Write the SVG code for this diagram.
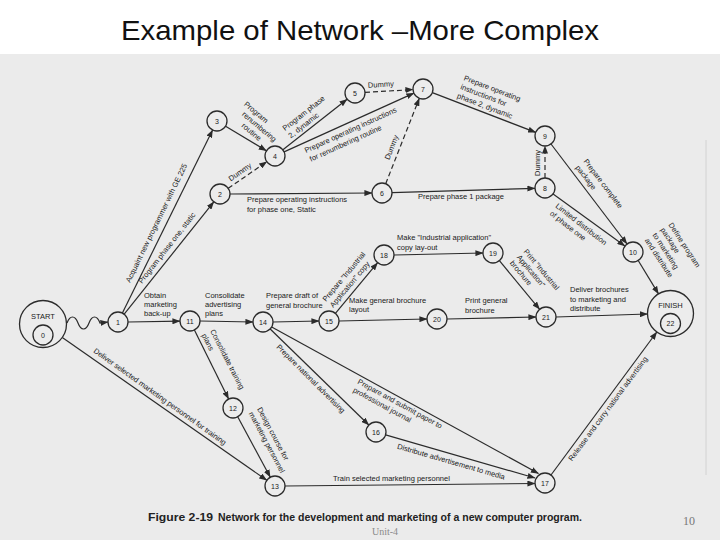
<svg xmlns="http://www.w3.org/2000/svg" width="720" height="540" viewBox="0 0 720 540">
<defs>
<marker id="a" viewBox="0 0 8 6" refX="7.6" refY="3" markerWidth="8" markerHeight="6" markerUnits="userSpaceOnUse" orient="auto"><path d="M0,0 L8,3 L0,6 z" fill="#2b2b2b"/></marker>
<style>
.e{stroke:#2b2b2b;stroke-width:1.2;fill:none;marker-end:url(#a)}
.d{stroke-dasharray:5 3}
.nd circle{fill:#ececec;stroke:#2b2b2b;stroke-width:1.3}
.nd text{font-family:"Liberation Sans",Arial,sans-serif;font-size:7px;fill:#1a1a1a;text-anchor:middle}
.l{font-family:"Liberation Sans",Arial,sans-serif;font-size:7.5px;fill:#1a1a1a}
.m{text-anchor:middle}
</style>
</defs>
<rect x="0" y="0" width="720" height="540" fill="#ffffff"/>
<rect x="0" y="54" width="720" height="486" fill="#ebebeb"/>
<line x1="706" y1="140" x2="706" y2="475" stroke="#d2d2d2" stroke-width="1"/>
<text x="360" y="40" font-family="'Liberation Sans',Arial,sans-serif" font-size="28" fill="#111" text-anchor="middle" textLength="478" lengthAdjust="spacingAndGlyphs">Example of Network –More Complex</text>

<g id="connectors">
<path class="e" d="M67,323 c3,-8 8,-8 11,0 s8,8 11,0 s8,-8 11,0 L108,322"/>
<line class="e" x1="122.4" y1="313" x2="212.6" y2="130"/>
<line class="e" x1="124.2" y1="314.2" x2="213.8" y2="201.8"/>
<line class="e" x1="128" y1="322" x2="180" y2="321.2"/>
<line class="e" x1="62.3" y1="337.5" x2="266.8" y2="480.3"/>
<line class="e" x1="200" y1="321" x2="253" y2="322"/>
<line class="e" x1="194.4" y1="330" x2="228.6" y2="399"/>
<line class="e" x1="237.7" y1="416.8" x2="270.3" y2="477.2"/>
<line class="e" x1="273" y1="322" x2="319" y2="321"/>
<line class="e" x1="270.2" y1="329" x2="368.8" y2="425"/>
<line class="e" x1="271.7" y1="327" x2="538.5" y2="473.5"/>
<line class="e" x1="335.4" y1="313.3" x2="377.6" y2="262.7"/>
<line class="e" x1="339" y1="321" x2="427" y2="319"/>
<line class="e" x1="394" y1="255" x2="483" y2="253"/>
<line class="e" x1="499.4" y1="260.7" x2="539.6" y2="309.3"/>
<line class="e" x1="447" y1="319" x2="536" y2="317"/>
<line class="e" x1="556" y1="317" x2="647.5" y2="314"/>
<line class="e d" x1="228.2" y1="188.3" x2="266.8" y2="161.7"/>
<line class="e" x1="230" y1="194" x2="372" y2="193"/>
<line class="e" x1="225.6" y1="126.2" x2="266.4" y2="150.8"/>
<line class="e" x1="282.9" y1="149.8" x2="347.1" y2="99.2"/>
<line class="e" x1="284.1" y1="151.9" x2="413.9" y2="93.1"/>
<line class="e d" x1="365" y1="92.4" x2="413" y2="89.6"/>
<line class="e d" x1="385.7" y1="183.7" x2="419.3" y2="98.3"/>
<line class="e" x1="392" y1="192.7" x2="535" y2="188.3"/>
<line class="e" x1="432.3" y1="92.6" x2="535.7" y2="132.4"/>
<line class="e d" x1="545" y1="178" x2="545" y2="146"/>
<line class="e" x1="551" y1="144" x2="627" y2="244"/>
<line class="e" x1="553.1" y1="193.9" x2="624.9" y2="246.1"/>
<line class="e" x1="638.2" y1="260.5" x2="658.5" y2="293.9"/>
<line class="e" x1="285" y1="486" x2="535" y2="483.5"/>
<line class="e" x1="385.6" y1="434.8" x2="535" y2="478"/>
<line class="e" x1="551" y1="475" x2="656.8" y2="332"/>
</g>

<g id="edge-labels" class="l">
<text x="144" y="297.5">Obtain</text>
<text x="144" y="306.5">marketing</text>
<text x="144" y="315.5">back-up</text>
<text x="205" y="297.5">Consolidate</text>
<text x="205" y="306.5">advertising</text>
<text x="205" y="316">plans</text>
<text x="266" y="298">Prepare draft of</text>
<text x="266" y="307.5">general brochure</text>
<text x="349" y="303">Make general brochure</text>
<text x="349" y="312">layout</text>
<text x="397" y="240">Make "Industrial application"</text>
<text x="397" y="250">copy lay-out</text>
<text x="465" y="303">Print general</text>
<text x="465" y="312.5">brochure</text>
<text x="570" y="291.5">Deliver brochures</text>
<text x="570" y="301.5">to marketing and</text>
<text x="570" y="310.5">distribute</text>
<text x="247" y="201.5">Prepare operating instructions</text>
<text x="247" y="211.5">for phase one, Static</text>
<text x="418" y="199">Prepare phase 1 package</text>
<text class="m" transform="translate(381,87) rotate(-3.4)">Dummy</text>
<text x="333" y="481">Train selected marketing personnel</text>

<text transform="translate(130,283) rotate(-64)">Acquaint new programmer with GE 225</text>
<text transform="translate(142,284) rotate(-52)">Program phase one, static</text>
<g transform="translate(243.5,105) rotate(40)"><text>Program</text><text x="5" y="9">renumbering</text><text x="12" y="18">routine</text></g>
<text class="m" transform="translate(240,172) rotate(-34.6)" y="2.5">Dummy</text>
<g transform="translate(285,131) rotate(-38)"><text>Program phase</text><text y="9.5">2, dynamic</text></g>
<g transform="translate(306,153) rotate(-24.4)"><text>Prepare operating instructions</text><text x="1" y="10">for renumbering routine</text></g>
<text class="m" transform="translate(391.7,147.3) rotate(-68.7)" y="2.5">Dummy</text>
<g transform="translate(463.3,80) rotate(21)"><text>Prepare operating</text><text y="9.5">instructions for</text><text y="19">phase 2, dynamic</text></g>
<text class="m" transform="translate(539.5,163) rotate(-90)">Dummy</text>
<g transform="translate(583.3,161.6) rotate(52.8)"><text>Prepare complete</text><text y="10">package</text></g>
<g transform="translate(555,207) rotate(38)"><text>Limited distribution</text><text y="9.5">of phase one</text></g>
<g transform="translate(668.3,224.7) rotate(57)"><text>Define program</text><text y="9.5">package</text><text y="19">to marketing</text><text y="28.5">and distribute</text></g>
<g transform="translate(326,302) rotate(-50)"><text>Prepare "Industrial</text><text y="9.5">Application" copy</text></g>
<g transform="translate(523.3,251.8) rotate(50)"><text>Print "Industrial</text><text y="9">Application"</text><text y="18">brochure</text></g>
<text transform="translate(93,352) rotate(35.5)">Deliver selected marketing personnel for training</text>
<g transform="translate(210,331) rotate(63)"><text>Consolidate training</text><text y="9.5">plans</text></g>
<g transform="translate(257,409) rotate(62)"><text>Design course for</text><text y="9.5">marketing personnel</text></g>
<text transform="translate(276,347.5) rotate(45)">Prepare national advertising</text>
<g transform="translate(357,383.3) rotate(28.6)"><text>Prepare and submit paper to</text><text y="9.5">professional journal</text></g>
<text transform="translate(396.7,448.6) rotate(16.1)">Distribute advertisement to media</text>
<text transform="translate(572,461.5) rotate(-53.5)">Release and carry national advertising</text>
</g>

<g id="n0" class="nd"><circle cx="43" cy="324" r="23.5"/><circle cx="43" cy="335" r="10"/><text x="43" y="319.3" style="font-size:7.5px">START</text><text x="43" y="337.5">0</text></g>
<g id="n1" class="nd"><circle cx="118" cy="322" r="10"/><text x="118" y="324.5">1</text></g>
<g id="n2" class="nd"><circle cx="220" cy="194" r="10"/><text x="220" y="196.5">2</text></g>
<g id="n3" class="nd"><circle cx="217" cy="121" r="10"/><text x="217" y="123.5">3</text></g>
<g id="n4" class="nd"><circle cx="275" cy="156" r="10"/><text x="275" y="158.5">4</text></g>
<g id="n5" class="nd"><circle cx="355" cy="93" r="10"/><text x="355" y="95.5">5</text></g>
<g id="n6" class="nd"><circle cx="382" cy="193" r="10"/><text x="382" y="195.5">6</text></g>
<g id="n7" class="nd"><circle cx="423" cy="89" r="10"/><text x="423" y="91.5">7</text></g>
<g id="n8" class="nd"><circle cx="545" cy="188" r="10"/><text x="545" y="190.5">8</text></g>
<g id="n9" class="nd"><circle cx="545" cy="136" r="10"/><text x="545" y="138.5">9</text></g>
<g id="n10" class="nd"><circle cx="633" cy="252" r="10"/><text x="633" y="254.5">10</text></g>
<g id="n11" class="nd"><circle cx="190" cy="321" r="10"/><text x="190" y="323.5">11</text></g>
<g id="n12" class="nd"><circle cx="233" cy="408" r="10"/><text x="233" y="410.5">12</text></g>
<g id="n13" class="nd"><circle cx="275" cy="486" r="10"/><text x="275" y="488.5">13</text></g>
<g id="n14" class="nd"><circle cx="263" cy="322" r="10"/><text x="263" y="324.5">14</text></g>
<g id="n15" class="nd"><circle cx="329" cy="321" r="10"/><text x="329" y="323.5">15</text></g>
<g id="n16" class="nd"><circle cx="376" cy="432" r="10"/><text x="376" y="434.5">16</text></g>
<g id="n17" class="nd"><circle cx="545" cy="483" r="10"/><text x="545" y="485.5">17</text></g>
<g id="n18" class="nd"><circle cx="384" cy="255" r="10"/><text x="384" y="257.5">18</text></g>
<g id="n19" class="nd"><circle cx="493" cy="253" r="10"/><text x="493" y="255.5">19</text></g>
<g id="n20" class="nd"><circle cx="437" cy="319" r="10"/><text x="437" y="321.5">20</text></g>
<g id="n21" class="nd"><circle cx="546" cy="317" r="10"/><text x="546" y="319.5">21</text></g>
<g id="n22" class="nd"><circle cx="670.5" cy="313.5" r="23"/><circle cx="670.5" cy="323.5" r="10"/><text x="670.5" y="308.3" style="font-size:7.5px">FINISH</text><text x="670.5" y="326">22</text></g>

<text x="148" y="521" font-family="'Liberation Sans',Arial,sans-serif" font-size="11" font-weight="bold" fill="#222" textLength="65" lengthAdjust="spacingAndGlyphs">Figure 2-19</text>
<text x="218" y="521" font-family="'Liberation Sans',Arial,sans-serif" font-size="11" font-weight="bold" fill="#222" textLength="364" lengthAdjust="spacingAndGlyphs">Network for the development and marketing of a new computer program.</text>
<text x="385" y="535" font-family="'Liberation Serif',serif" font-size="10" fill="#8a8a8a" text-anchor="middle">Unit-4</text>
<text x="689" y="525" font-family="'Liberation Serif',serif" font-size="12" fill="#777" text-anchor="middle">10</text>
</svg>
